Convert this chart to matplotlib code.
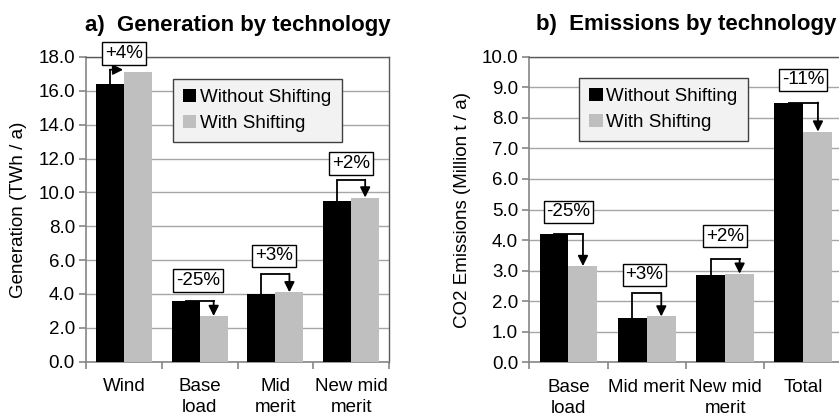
import matplotlib
matplotlib.use("Agg")
import matplotlib.pyplot as plt
import numpy as np
from matplotlib.ticker import FormatStrFormatter

plt.rcParams['font.family'] = ['Liberation Sans', 'DejaVu Sans']

# Generation (TWh / a)
gen_categories = ["Wind", "Base\nload", "Mid\nmerit", "New mid\nmerit"]
gen_without = [16.4, 3.6, 4.0, 9.5]
gen_with = [17.1, 2.7, 4.1, 9.7]
gen_changes = ["+4%", "-25%", "+3%", "+2%"]

# CO2 emissions (Million t / a)
em_categories = ["Base\nload", "Mid merit", "New mid\nmerit", "Total"]
em_without = [4.2, 1.45, 2.85, 8.5]
em_with = [3.15, 1.5, 2.9, 7.55]
em_changes = ["-25%", "+3%", "+2%", "-11%"]

series_names = ["Without Shifting", "With Shifting"]

# where the change boxes and connector elbows sit
gen_box_xy = [(0.0, 18.2), (0.98, 4.8), (1.98, 6.25), (3.0, 11.7)]
gen_arrows = [("side", 17.25), ("drop", None), ("rise", 5.2), ("rise", 10.75)]
em_box_xy = [(0.0, 4.92), (0.97, 2.86), (2.0, 4.13), (3.0, 9.24)]
em_arrows = [("drop", None), ("rise", 2.26), ("rise", 3.38), ("drop", None)]

BLACK = "#000000"
GREY = "#bfbfbf"
AXIS_GREY = "#868686"
FRAME = "#595959"
BAR_W = 0.37


def draw_panel(ax, cats, without, with_, changes, box_xy, arrows,
               ymax, ystep, title, ylabel, legend_at, ylabel_x):
    x = np.arange(len(cats))
    ax.bar(x - BAR_W / 2, without, BAR_W, color=BLACK, label=series_names[0], zorder=3)
    ax.bar(x + BAR_W / 2, with_, BAR_W, color=GREY, label=series_names[1], zorder=3)

    # elbow connectors from the black bar to the grey bar
    for i, (kind, lvl) in enumerate(arrows):
        a, b = without[i], with_[i]
        xb, xg = x[i] - BAR_W / 2, x[i] + BAR_W / 2
        if kind == "drop":
            pts = [(xb, a), (xg, a)]
            start, tip = (xg, a), (xg, b)
        elif kind == "rise":
            pts = [(xb, a), (xb, lvl), (xg, lvl)]
            start, tip = (xg, lvl), (xg, b)
        else:
            pts = [(xb, a), (xb, lvl)]
            start, tip = (xb, lvl), (x[i] - 0.01, lvl)
        px, py = zip(*pts)
        ax.plot(px, py, color="black", lw=1.3, solid_joinstyle="miter", zorder=4)
        ax.annotate("", xy=tip, xytext=start, zorder=4,
                    arrowprops=dict(arrowstyle="-|>,head_length=0.6,head_width=0.3",
                                    color="black", lw=1.3, shrinkA=0, shrinkB=0))

    for (bx, by), txt in zip(box_xy, changes):
        ax.text(bx, by, txt, ha="center", va="center", fontsize=13.5, zorder=5,
                bbox=dict(boxstyle="square,pad=0.15", fc="white", ec="black", lw=1))

    ax.set_xlim(-0.5, len(cats) - 0.5)
    ax.set_ylim(0, ymax)
    ax.set_xticks(x)
    ax.set_xticklabels(cats, fontsize=13.5, linespacing=1.3)
    ax.set_xticks(np.arange(-0.5, len(cats)), minor=True)
    ax.tick_params(axis="x", which="major", length=0, pad=12)
    ax.tick_params(axis="x", which="minor", length=5, color=AXIS_GREY, width=1.2)
    ax.set_yticks(np.arange(0, ymax + ystep / 2, ystep))
    ax.yaxis.set_major_formatter(FormatStrFormatter("%.1f"))
    ax.tick_params(axis="y", length=5, color=AXIS_GREY, width=1.2, labelsize=13.5, pad=3)

    ax.yaxis.grid(True, color="#a6a6a6", lw=1.0)
    ax.set_axisbelow(True)
    for side in ("left", "bottom"):
        ax.spines[side].set_color(AXIS_GREY)
        ax.spines[side].set_linewidth(1.2)
    for side in ("top", "right"):
        ax.spines[side].set_color(FRAME)
        ax.spines[side].set_linewidth(1.0)

    ax.set_title(title, fontsize=16, fontweight="bold", pad=19)
    ax.set_ylabel(ylabel, fontsize=13.5)
    ax.yaxis.set_label_coords(ylabel_x, 0.5)

    leg = ax.legend(loc="upper left", bbox_to_anchor=legend_at, fontsize=13.5,
                    frameon=True, fancybox=False, framealpha=1,
                    facecolor="#f2f2f2", edgecolor="#404040",
                    handlelength=0.7, handleheight=0.7, handletextpad=0.2,
                    labelspacing=0.45, borderpad=0.55, borderaxespad=0)
    leg.get_frame().set_linewidth(1.0)
    leg.set_zorder(6)


fig = plt.figure(figsize=(8.39, 4.16), dpi=100)
ax1 = fig.add_axes([0.1025, 0.1305, 0.3612, 0.7325])
ax2 = fig.add_axes([0.6309, 0.1290, 0.3734, 0.7347])

draw_panel(ax1, gen_categories, gen_without, gen_with, gen_changes,
           gen_box_xy, gen_arrows, 18, 2,
           "a)  Generation by technology", "Generation (TWh / a)",
           (0.287, 0.928), -0.195)
draw_panel(ax2, em_categories, em_without, em_with, em_changes,
           em_box_xy, em_arrows, 10, 1,
           "b)  Emissions by technology", "CO2 Emissions (Million t / a)",
           (0.159, 0.931), -0.186)

fig.savefig("out.png", dpi=100)
